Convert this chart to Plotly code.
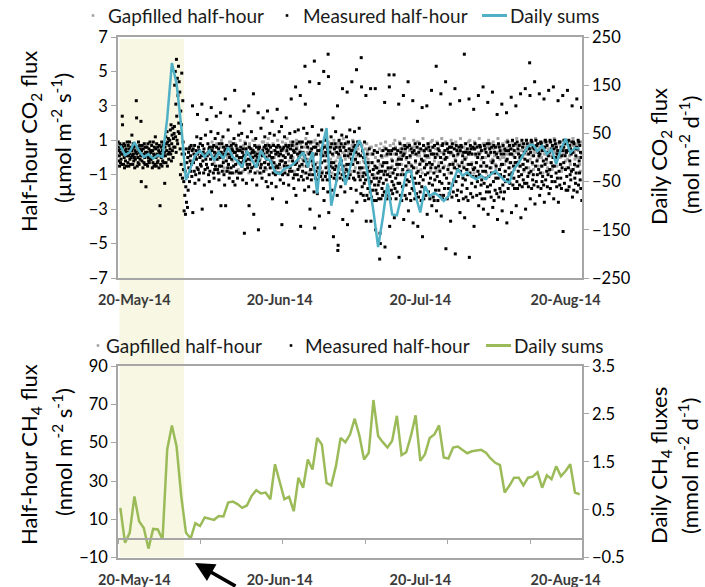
import pandas as pd
import plotly.graph_objects as go

# ---------------- data ----------------
first_day = "2014-05-17"
x_range = ["2014-05-16 12:00", "2014-08-23 12:00"]
label_dates = ["2014-05-20", "2014-06-20", "2014-07-20", "2014-08-20"]
label_text = ["20-May-14", "20-Jun-14", "20-Jul-14", "20-Aug-14"]
shade_dates = ["2014-05-16 20:00", "2014-05-30 14:00"]
legend_labels = ["Gapfilled half-hour", "Measured half-hour", "Daily sums"]

# daily CO2 sums (mol m-2 d-1), right axis of top panel
co2_daily = [25, 5, 11, 32, 14, 1, 7, -2.5, 5, 1, 81, 196, 153, 64, -47, -20, 5, 14, 1, 14,
             -6, 11, -2.5, 21, 1, -8, -20, 14, -2.5, -21, 14, -2.5, -6, -30, -34, -23, -20, -13, -2.5, 11,
             -20, 11, -75, 21, 61, -100, -54, 1, -57, -23, 14, 36, 7, -47, -111, -186, -125, -54, -118, -120,
             -80, -31, -28, -80, -114, -59, -80, -73, -80, -90, -80, -50, -24, -38, -31, -40, -45, -38, -45, -35,
             -28, -38, -48, -52, -24, -11, 7, 24, 27, 13, 24, 7, 17, -14, 17, 39, 10, 20, 18]

# daily CH4 sums (mmol m-2 d-1), right axis of bottom panel
ch4_daily = [0.54, -0.19, 0.02, 0.78, 0.26, 0.12, -0.31, 0.10, 0.09, -0.12, 1.76, 2.26, 1.82, 0.78, 0.02,
             -0.10, 0.22, 0.16, 0.34, 0.32, 0.29, 0.37, 0.36, 0.65, 0.67, 0.62, 0.54, 0.59, 0.79, 0.91,
             0.84, 0.86, 0.72, 1.45, 1.06, 0.72, 0.77, 0.47, 1.17, 0.96, 1.55, 1.34, 2.00, 1.86, 1.06,
             1.01, 1.41, 2.00, 1.91, 2.07, 2.40, 2.05, 1.55, 1.69, 2.79, 2.04, 1.91, 1.80, 1.94, 2.46,
             1.64, 1.70, 2.04, 2.47, 1.52, 1.66, 2.00, 2.07, 2.26, 1.59, 1.57, 1.80, 1.82, 1.75, 1.68,
             1.72, 1.74, 1.75, 1.69, 1.57, 1.48, 1.43, 0.86, 1.00, 1.17, 1.17, 1.01, 1.17, 1.19, 1.28,
             0.96, 1.22, 1.14, 1.41, 1.20, 1.31, 1.45, 0.86, 0.82]

# measured half-hour CO2 fluxes (umol m-2 s-1), one list per day
co2_measured = [
    [0.9, 0.4, -0.2, 0.6, 0.1, -0.5, 0.8, 0.3, -0.3, 0.5, -0.1, 0.7, 0.2, -0.4, 2.4, 1.9],
    [0.6, 0.2, -0.4, 0.8, 0.0, -0.6, 0.7, 0.4, -0.2, 0.3, 0.5, -0.5, 0.1, 0.9],
    [0.3, -0.3, 0.7, 0.1, -0.5, 0.5, 0.9, -0.1, 0.2, -0.4, 0.6, 0.0, 0.4, 1.3],
    [0.5, 0.1, -0.4, 0.8, 0.2, -0.2, 0.6, 0.0, -0.6, 0.4, -0.1, 0.7, 0.3, 3.3, 2.3],
    [0.2, -0.5, 0.6, 0.0, -0.3, 0.9, 0.4, -0.4, 0.3, 0.7, -0.1, 0.5, 0.1, 2.1, -1.4],
    [0.4, -0.2, 0.7, 0.1, -0.6, 0.5, 0.2, -0.3, 0.8, 0.0, -0.4, 0.6, 0.3, -1.7],
    [0.1, -0.4, 0.6, 0.3, -0.5, 0.8, 0.0, -0.2, 0.5, -0.3, 0.2, 0.9, -0.1, 0.4],
    [0.3, -0.1, 0.7, 0.0, -0.6, 0.4, -0.3, 0.9, 0.2, -0.5, 0.6, 0.1, -0.4, 1.2],
    [0.5, 0.0, -0.5, 0.8, 0.2, -0.3, 0.6, -0.2, 0.1, 0.4, -0.6, 0.7, 0.3, -2.8],
    [0.2, -0.4, 0.6, 0.0, 0.9, -0.5, 0.4, -0.2, 0.7, 0.1, -0.3, 0.8, 0.3, -1.5],
    [0.6, 0.1, 1.2, -0.3, 0.8, 0.4, 1.5, -0.5, 0.9, 0.2, 1.1, -0.1, 0.7, 0.3],
    [1.0, 0.5, 1.6, 0.2, 1.9, -0.2, 0.8, 1.3, 0.4, 1.7, 0.0, 1.1, 0.6, 1.4],
    [1.8, 4.2, 0.6, 5.0, 1.2, 3.1, 0.3, 5.7, 2.4, 1.0, 4.6, 0.8, 3.6, 1.5, 5.3, 2.0],
    [4.4, 1.4, 3.8, 0.5, -1.0, 2.7, -0.4, 1.9, 4.9, 0.2, -1.2, 3.3, 0.9, -0.7],
    [-1.4, -3.1, 0.2, -2.2, -0.8, -3.3, -1.7, 0.5, -2.6, -0.3, -1.1, -2.9, 0.0, -1.9],
    [0.3, -0.6, 0.5, -1.4, 0.6, -0.2, 0.1, -0.8, 0.7, -0.4, -1.1, 0.4, 3.0, -3.2],
    [0.5, -0.3, 0.2, -0.8, 0.7, -1.5, 0.0, -1.0, 0.4, -0.1, 1.2, -0.6, 2.5],
    [0.2, -0.7, 0.6, -1.3, 0.4, -0.9, 0.0, 0.8, -0.4, 1.1, -0.5, 0.1, 3.1, -3.0],
    [0.7, -0.2, 0.3, -0.9, 0.5, -1.6, 0.1, -0.7, 1.3, -0.1, 0.2, -0.4, 2.2],
    [0.1, -0.6, 0.8, 0.3, -1.0, 0.5, -1.4, 0.6, -0.8, 0.2, -0.1, 1.5, 2.9, -2.0],
    [0.4, -0.4, 0.6, 0.0, -0.9, 0.7, -1.2, 0.3, -0.7, 1.1, -0.5, 0.1, 2.4],
    [0.6, -0.1, 0.2, -0.7, 1.4, -0.9, 0.5, -1.3, 0.8, -0.5, 0.0, 0.3, 2.6, -2.8],
    [0.3, -0.5, 0.8, -0.8, 0.1, 1.2, -0.3, 0.6, -1.0, 0.2, -1.6, 0.4, 3.4, -2.8],
    [0.5, -0.2, 0.7, -0.8, 0.2, -0.6, 1.6, -0.4, 0.6, -1.2, 0.0, -0.9, 2.4],
    [0.2, -0.6, 0.7, -0.1, 0.5, -0.9, 0.4, -1.4, 0.8, -0.5, 1.1, 0.3, 3.9, -1.6],
    [0.3, -0.4, 0.7, -0.8, 0.1, 0.5, -1.2, 0.4, -0.2, 1.3, -0.9, 0.0, 2.0],
    [0.4, -0.3, 0.6, -0.9, 0.0, 1.4, -0.5, 0.3, -1.3, 0.5, -0.2, 0.1, 2.7, -4.4],
    [0.1, -0.7, 0.8, -0.2, 0.5, -1.5, 0.3, -0.4, 1.2, -0.6, 0.2, -0.1, 3.0, -2.8],
    [0.6, -0.4, 0.2, -0.8, 0.5, -0.1, 1.5, -0.6, 0.3, -1.3, 0.0, 0.4, 3.7, -3.3],
    [0.3, -0.5, 0.7, -0.9, 0.1, 1.1, -0.2, 0.6, -1.6, 0.2, -0.4, 0.0, 2.6, -4.2],
    [0.5, -0.2, 0.6, -0.9, 0.2, -0.6, 1.7, -0.4, 0.3, -1.2, 0.1, 0.4, 2.3],
    [0.2, -0.8, 0.6, -0.3, 1.2, -0.6, 0.7, 0.0, -1.4, 0.5, -0.1, 0.3, 2.7, -1.7],
    [0.4, -0.4, 0.7, -1.0, 0.1, 1.4, -0.6, 0.6, -0.2, 0.3, -1.5, 0.0, 2.1, -2.4],
    [0.0, -0.9, 0.7, -0.3, 1.3, -0.6, 0.4, -1.0, 0.2, -1.7, 0.6, -0.5, 2.8],
    [0.3, -0.6, 0.7, -0.9, 0.1, 1.5, -0.4, 0.6, -1.3, 0.2, -0.2, 0.4, 1.8, -3.9],
    [-0.2, -1.0, 0.5, 0.1, -1.5, 0.6, -0.5, 1.2, -0.9, 0.0, -0.3, 0.7, 2.3, -2.6],
    [0.4, -0.5, 0.6, -1.0, 0.2, -1.6, 0.7, -0.8, 1.4, -0.6, 0.5, 0.0, 3.4],
    [0.1, -0.8, 0.7, -0.2, 0.9, -1.2, 0.4, -1.8, 0.3, -1.0, 1.5, -0.4, 4.1, -2.2],
    [0.5, -0.3, 0.8, -1.0, 0.2, -0.7, 1.6, -1.3, 0.0, 0.9, -0.5, 0.3, 3.6, -4.0],
    [0.2, -1.1, 0.6, -0.4, 0.9, -0.8, 0.3, -1.3, 1.7, -0.2, 0.1, -1.9, 5.3, 3.1],
    [-0.1, -0.9, 0.8, -0.5, 1.4, -1.2, 0.6, -0.3, 0.9, -1.7, 0.2, -1.0, 4.4, -3.0],
    [0.3, -0.7, 0.9, -1.3, 0.5, -0.2, 1.8, -1.0, 0.1, -0.5, 0.6, -2.0, 5.6, -4.1],
    [-0.4, -1.2, 0.6, -0.8, 0.2, -1.3, 0.8, -2.1, 0.4, -0.6, 1.3, -1.0, 4.3, -3.4],
    [0.4, -0.6, 0.9, -1.1, 0.2, -0.3, 1.6, -0.9, 0.5, -1.3, 0.1, -1.8, 5.0, -2.5],
    [0.6, -0.2, 1.0, -1.1, 0.3, -0.6, 1.4, -0.9, 0.1, -1.3, 0.5, -2.0, 6.0, 4.7, -3.2],
    [-0.8, -1.3, 0.3, -0.5, 0.6, -1.1, 1.2, -0.3, 0.8, -1.9, 0.2, -0.6, 2.3, -4.6],
    [-0.3, -1.2, 0.5, -0.7, 0.8, -1.0, 1.5, -0.5, 0.6, -1.3, 0.3, -2.2, 3.0, -5.4, -5.1],
    [0.2, -0.9, 1.0, -0.4, 0.6, -1.2, 0.4, -1.7, 0.8, -0.2, 1.3, -1.0, 4.0, -3.6],
    [-0.5, -1.3, 0.6, -0.9, 0.1, -2.0, 0.8, -1.1, 0.4, -0.7, 1.2, -0.4, 3.8, -3.9],
    [0.1, -0.8, 0.9, -1.2, 0.5, -0.4, 1.6, -1.0, 0.2, -1.8, 0.4, -0.1, 4.4, -3.1],
    [0.4, -0.4, 0.9, -1.2, 0.6, -0.8, 1.5, -1.3, 0.7, -0.1, 0.3, -1.9, 5.1, -2.6],
    [0.7, -0.3, 0.9, -0.9, 0.2, -1.1, 1.7, -0.6, 0.8, -1.3, 0.1, -2.1, 5.8, 4.1],
    [-0.6, -1.7, 0.4, -1.1, -2.2, 0.0, -0.9, -1.5, 0.9, -2.5, -0.3, -1.3, 3.6, -3.7],
    [-1.0, -2.2, 0.2, -0.6, -1.8, -0.3, -2.4, -1.2, 0.5, -0.8, -1.5, -2.0, 4.0, -3.7],
    [-1.4, -2.3, -0.3, -1.0, -1.9, 0.2, -0.7, -2.5, -1.2, 0.4, -1.6, -0.5, 4.0, -4.2],
    [-1.9, -2.5, -0.6, -1.2, -2.1, 0.3, -0.9, -1.6, -0.2, -2.4, -1.4, -0.8, -5.9, -4.4, -5.0],
    [-1.2, -2.4, 0.1, -0.8, -1.8, -0.5, -2.2, 0.4, -1.5, -0.3, -1.0, -2.0, 3.2, -5.2],
    [-0.8, -2.0, 0.5, -1.3, -0.3, -2.4, 0.2, -1.0, -1.7, -0.6, 0.4, -2.2, 4.8, 4.1, -4.0],
    [-1.1, -2.4, 0.2, -0.6, -1.9, 0.4, -1.4, -0.2, -2.1, -0.9, 0.5, -1.6, 4.8, -3.5],
    [-0.7, -1.8, 0.5, -1.2, -2.4, 0.2, -0.4, -2.0, -1.0, 0.4, -1.5, -0.1, 3.1, -5.8],
    [-0.4, -1.5, 0.8, -2.2, 0.3, -1.0, -0.1, -2.5, 0.5, -1.7, -0.7, 0.1, 3.6, -3.6],
    [0.2, -1.0, 0.7, -2.2, 0.5, -0.5, -1.6, -2.4, 0.0, -1.3, 0.6, -0.8, 4.4, -3.1],
    [-0.3, -1.4, 0.7, -2.1, 0.1, -0.8, -2.5, 0.5, -1.1, -0.5, -1.8, 0.3, 3.3, -3.8],
    [-0.6, -1.9, 0.4, -1.2, -2.4, 0.8, -0.2, -1.5, 0.2, -2.1, -0.9, 0.6, 2.1, -4.0],
    [-0.8, -2.3, 0.3, -1.5, 0.8, -0.4, -2.0, -1.1, 0.5, -2.5, -0.1, -1.7, 2.9, -4.6],
    [-0.2, -1.3, 0.7, -2.4, 0.4, -0.6, -1.8, 0.1, -1.0, -2.2, 0.5, -0.4, 3.0, -3.3],
    [0.1, -0.9, 0.8, -2.0, 0.6, -1.5, -0.3, -2.4, 0.4, -1.2, -0.6, 0.2, 3.9, -2.8],
    [-0.4, -1.6, 0.6, -2.3, 0.2, -0.9, -2.5, 0.7, -1.3, 0.0, -1.9, -0.6, 5.3, -3.1],
    [0.2, -1.1, 0.8, -2.5, 0.5, -0.5, -1.9, 0.4, -1.4, -0.8, -2.2, 0.0, 3.7, -3.4],
    [-0.3, -1.5, 0.7, -2.4, 0.8, -0.6, -2.2, 0.2, -1.0, -1.8, 0.4, -0.1, 4.4, -5.3],
    [0.0, -1.2, 0.8, -2.4, 0.5, -0.7, -1.8, 0.3, -1.5, -2.1, 0.6, -0.4, 3.1, -3.7],
    [0.3, -0.9, 0.6, -2.3, 0.8, -1.6, -0.4, -2.0, 0.1, -1.3, 0.5, -0.6, 4.0, -5.6],
    [-0.2, -1.4, 0.7, -2.2, 0.4, -0.7, -1.9, 0.2, -1.1, -2.5, 0.6, -0.5, 3.3, -3.2],
    [0.4, -0.8, 0.7, -2.0, 0.6, -0.3, -1.6, 0.1, -1.2, -2.4, 0.3, -0.6, 6.0, -3.5],
    [-0.1, -1.3, 0.8, -2.3, 0.3, -0.7, -1.8, 0.5, -1.0, -2.5, 0.2, -0.4, 3.4, -5.8],
    [0.3, -0.9, 0.7, -2.1, 0.5, -0.4, -1.5, 0.2, -1.1, -2.3, 0.6, -0.7, 2.8, -4.0],
    [0.5, -0.6, 0.8, -1.7, 0.2, -1.1, -0.3, -2.2, 0.6, -1.4, 0.0, -0.8, 3.6, -2.8],
    [0.2, -1.0, 0.7, -2.1, 0.6, -0.5, -1.6, 0.4, -1.3, -2.4, 0.0, -0.8, 4.1, -3.0],
    [-0.3, -1.5, 0.7, -2.4, 0.5, -0.8, -1.2, 0.3, -2.0, -0.5, 0.8, -1.7, 3.2, -3.3],
    [0.1, -1.1, 0.8, -2.0, 0.5, -0.6, -1.6, 0.3, -2.3, -0.9, 0.6, -0.3, 3.8, -2.9],
    [-0.2, -1.4, 0.7, -2.5, 0.3, -0.9, -1.9, 0.6, -1.2, -0.5, 0.2, -2.1, 2.5, -3.6],
    [0.0, -1.2, 0.8, -2.3, 0.6, -0.7, -1.8, 0.4, -1.0, -2.0, 0.2, -0.4, 3.1, -3.1],
    [-0.4, -1.6, 0.7, -2.4, 0.2, -1.1, -2.0, 0.5, -0.8, -1.4, 0.4, -0.2, 2.6, -3.8],
    [-0.1, -1.3, 0.9, -1.8, 0.4, -0.6, -1.0, 0.7, -1.5, 0.2, -0.3, 0.5, 3.5, -3.2],
    [0.2, -0.9, 1.0, -1.6, 0.7, -0.5, -1.2, 0.4, -1.8, 0.0, 0.8, -0.3, 3.0, -2.8],
    [-0.3, -1.4, 0.9, -1.8, 0.5, -0.8, 0.2, -1.1, 0.7, -1.6, 0.0, -0.5, 3.7, -3.5],
    [0.1, -1.0, 1.0, -1.7, 0.6, -0.4, -1.3, 0.8, -0.7, 0.3, -1.5, -0.1, 4.0, -3.0],
    [0.4, -0.6, 1.0, -1.5, 0.8, -0.2, -1.1, 0.6, -1.7, 0.2, -0.9, 0.5, 5.5, 3.6, -2.4],
    [0.3, -0.8, 1.0, -1.8, 0.9, -0.3, -1.3, 0.6, -1.0, 0.1, -1.6, 0.5, 4.4, -2.7],
    [0.5, -0.5, 1.0, -1.4, 0.7, -0.2, -1.0, 0.8, -1.7, 0.3, -0.7, 0.1, 3.7, -2.2],
    [0.2, -0.9, 0.9, -1.8, 0.8, -0.5, -1.4, 0.4, -1.1, 0.6, -0.2, -1.6, 3.4, -2.6],
    [0.6, -0.4, 1.0, -1.3, 0.9, -0.1, -0.8, 0.7, -1.7, 0.3, -1.0, 0.1, 3.9, -2.1],
    [0.3, -0.7, 1.0, -1.8, 0.9, -0.3, -1.1, 0.5, -1.4, 0.7, -0.5, 0.0, 4.1, -2.4],
    [0.5, -0.5, 1.0, -1.4, 0.8, 0.0, -0.9, 0.6, -1.7, 0.2, -1.2, 0.4, 3.3, -2.6],
    [0.2, -0.8, 0.9, -1.6, 0.9, -0.4, -1.2, 0.6, -1.8, 0.1, -0.6, 0.4, 3.6, -4.3],
    [0.6, -0.3, 1.0, -1.5, 0.8, 0.1, -0.7, 0.4, -1.9, 0.3, -1.1, 0.9, 3.9, -1.9],
    [0.4, -0.6, 1.0, -1.7, 0.7, -0.2, -1.0, 0.5, -1.3, 0.2, -0.8, 0.9, 3.0, -2.3],
    [0.3, -0.7, 0.9, -1.9, 0.8, -0.4, -1.2, 0.5, -1.5, 0.1, -0.9, 0.6, 3.4, -2.0],
    [0.5, -0.5, 1.0, -1.6, 0.9, -0.2, -0.9, 0.7, -1.3, 0.3, -1.8, 0.0, 2.9, -2.5],
]

# gap-filled half-hour CO2 fluxes (umol m-2 s-1), one list per day (none in first 20 days)
co2_gapfilled = [[] for _ in range(20)] + [
    [0.9, 0.5, 0.1, -0.3, -0.7, 0.7, 0.2], [0.8, 0.3, -0.1, -0.5, -0.9, 0.6, 0.0],
    [1.0, 0.6, 0.2, -0.2, -0.6, 0.4, -0.8], [0.7, 0.4, 0.0, -0.4, -0.8, 0.9, 0.1],
    [0.9, 0.5, 0.2, -0.2, -0.5, 0.3, -0.9], [0.8, 0.6, 0.1, -0.3, -0.7, 0.4, 0.0],
    [1.0, 0.4, 0.0, -0.4, -0.8, 0.7, 0.2], [0.9, 0.5, 0.3, -0.1, -0.6, 0.6, -0.9],
    [0.8, 0.2, -0.2, -0.6, 0.5, 1.0, 0.1], [1.0, 0.7, 0.3, -0.1, -0.5, -0.8, 0.4],
    [0.7, 0.3, -0.1, -0.5, -0.9, 0.9, 0.5], [0.9, 0.6, 0.2, -0.3, -0.7, 0.1, 0.8],
    [1.1, 0.5, 0.1, -0.3, -0.6, 0.7, -0.1], [0.8, 0.4, 0.0, -0.4, -0.8, 0.6, 0.2],
    [1.0, 0.7, 0.3, -0.2, -0.6, 0.5, -0.9], [0.9, 0.4, 0.1, -0.4, -0.7, 0.8, 0.3],
    [1.1, 0.6, 0.2, -0.2, -0.5, 0.9, 0.0], [0.8, 0.5, 0.0, -0.3, -0.8, 0.7, 0.3],
    [1.0, 0.6, 0.2, -0.2, -0.6, 0.4, 0.8], [0.9, 0.3, -0.1, -0.5, -0.9, 0.6, 0.1],
    [1.1, 0.7, 0.3, -0.1, -0.5, 0.5, -0.8], [0.8, 0.4, 0.0, -0.4, -0.7, 0.9, 0.2],
    [1.0, 0.6, 0.2, -0.3, -0.6, 0.7, -0.9], [0.9, 0.5, 0.1, -0.3, -0.8, 0.3, 0.7],
    [1.1, 0.7, 0.2, -0.2, -0.5, 0.4, 0.9], [0.8, 0.4, -0.1, -0.5, -0.9, 0.6, 0.1],
    [1.0, 0.6, 0.3, -0.2, -0.6, 0.8, 0.0], [0.9, 0.5, 0.1, -0.4, -0.7, 0.7, 0.3],
    [1.1, 0.6, 0.2, -0.1, -0.5, 0.9, -0.8], [0.8, 0.3, 0.0, -0.4, -0.8, 0.5, 0.7],
    [1.0, 0.7, 0.3, -0.2, -0.6, 0.4, 0.1], [0.9, 0.5, 0.1, -0.3, -0.7, 0.8, -0.9],
    [0.7, 0.3, -0.2, -0.6, -0.9, 0.5, 0.0], [0.8, 0.4, -0.1, -0.5, -0.8, 0.6, 0.2],
    [0.6, 0.2, -0.3, -0.7, -1.0, 0.4, 0.0], [0.7, 0.3, -0.2, -0.6, -0.9, 0.5, -0.4],
    [0.8, 0.4, 0.0, -0.4, -0.8, 0.6, 0.1], [0.9, 0.5, 0.1, -0.3, -0.7, 0.3, -0.9],
    [0.7, 0.4, -0.1, -0.5, -0.9, 0.8, 0.2], [1.0, 0.6, 0.2, -0.2, -0.6, 0.4, 0.0],
    [0.9, 0.5, 0.1, -0.4, -0.8, 0.7, 0.3], [1.1, 0.7, 0.3, -0.1, -0.5, 0.8, -0.7],
    [0.8, 0.4, 0.0, -0.4, -0.8, 0.6, 0.2], [1.0, 0.6, 0.2, -0.3, -0.6, 0.9, 0.1],
    [0.9, 0.5, 0.1, -0.3, -0.7, 0.4, -0.9], [1.1, 0.7, 0.3, -0.2, -0.5, 0.6, 0.0],
    [0.8, 0.4, 0.0, -0.4, -0.8, 0.9, 0.2], [1.0, 0.6, 0.2, -0.2, -0.6, 0.5, -0.8],
    [0.9, 0.5, 0.1, -0.3, -0.7, 0.7, 0.3], [1.1, 0.7, 0.3, -0.1, -0.5, 0.4, 0.9],
    [0.8, 0.4, 0.0, -0.5, -0.9, 0.6, 0.2], [1.0, 0.6, 0.2, -0.3, -0.6, 0.8, -0.1],
    [0.9, 0.5, 0.1, -0.4, -0.8, 0.3, 0.7], [1.1, 0.7, 0.3, -0.2, -0.5, 0.6, 0.0],
    [0.8, 0.4, 0.0, -0.4, -0.7, 0.9, 0.2], [1.0, 0.6, 0.2, -0.3, -0.6, 0.5, -0.9],
    [0.9, 0.5, 0.1, -0.3, -0.8, 0.7, 0.3], [1.1, 0.7, 0.3, -0.1, -0.5, 0.4, 0.8],
    [0.8, 0.4, 0.0, -0.5, -0.9, 0.6, 0.2], [1.0, 0.6, 0.2, -0.2, -0.6, 0.8, -0.1],
    [0.9, 0.5, 0.1, -0.4, -0.7, 0.3, 0.7], [1.1, 0.7, 0.3, -0.1, -0.5, 0.6, 0.0],
    [0.8, 0.4, 0.0, -0.4, -0.8, 0.9, 0.2], [1.0, 0.6, 0.2, -0.3, -0.6, 0.5, -0.9],
    [0.9, 0.5, 0.1, -0.3, -0.7, 0.7, 0.3], [1.1, 0.7, 0.3, -0.2, -0.5, 0.4, 0.8],
    [0.8, 0.4, 0.0, -0.4, -0.8, 0.6, 0.2], [1.0, 0.6, 0.2, -0.2, -0.6, 0.8, -0.1],
    [0.9, 0.5, 0.1, -0.4, -0.7, 0.3, 0.7], [1.1, 0.7, 0.3, -0.1, -0.5, 0.6, 0.0],
    [0.8, 0.4, 0.0, -0.5, -0.9, 0.9, 0.2], [1.0, 0.6, 0.2, -0.3, -0.6, 0.5, -0.8],
    [0.9, 0.5, 0.1, -0.3, -0.7, 0.7, 0.3], [1.1, 0.7, 0.3, -0.2, -0.5, 0.4, 0.8],
    [0.8, 0.4, 0.0, -0.4, -0.8, 0.6, 0.2], [1.0, 0.6, 0.2, -0.2, -0.6, 0.8, -0.1],
    [0.9, 0.5, 0.1, -0.4, -0.7, 0.3, 0.7], [1.1, 0.7, 0.3, -0.1, -0.5, 0.6, 0.0],
    [0.8, 0.4, 0.0, -0.4, -0.8, 0.9, 0.2],
]

# ---------------- styling constants ----------------
W, H = 705, 587
FONT = "Lato, 'Open Sans', sans-serif"
AXIS_GRAY = "#a6a6a6"
GRAY_PT = "#a3a3a3"
BLUE = "#4fb0c6"
GREEN = "#9bbb59"
x_dom = [118 / W, 582 / W]
top_dom = [1 - 278 / H, 1 - 37 / H]
bot_dom = [1 - 557.7 / H, 1 - 366 / H]

days = pd.date_range(first_day, periods=len(co2_daily), freq="D")


def halfhour_points(day_lists):
    xs, ys = [], []
    for d, vals in zip(days, day_lists):
        m = len(vals)
        for j, v in enumerate(vals):
            xs.append(d - pd.Timedelta(hours=12) + pd.Timedelta(days=(j + 0.5) / m))
            ys.append(v)
    return xs, ys


gx, gy = halfhour_points(co2_gapfilled)
mx, my = halfhour_points(co2_measured)

fig = go.Figure()
fig.add_trace(go.Scatter(x=gx, y=gy, mode="markers", name=legend_labels[0], showlegend=False,
                         marker=dict(symbol="square", size=3, color=GRAY_PT, line=dict(width=0)),
                         xaxis="x", yaxis="y"))
fig.add_trace(go.Scatter(x=mx, y=my, mode="markers", name=legend_labels[1], showlegend=False,
                         marker=dict(symbol="square", size=3, color="#000000", line=dict(width=0)),
                         xaxis="x", yaxis="y"))
fig.add_trace(go.Scatter(x=days, y=co2_daily, mode="lines", name=legend_labels[2], showlegend=False,
                         line=dict(color=BLUE, width=2.5), xaxis="x", yaxis="y2"))
fig.add_trace(go.Scatter(x=[None], y=[None], mode="markers", showlegend=False,
                         xaxis="x3", yaxis="y3"))
fig.add_trace(go.Scatter(x=days, y=ch4_daily, mode="lines", name=legend_labels[2], showlegend=False,
                         line=dict(color=GREEN, width=2.5), xaxis="x2", yaxis="y4"))

date_axis = dict(type="date", range=x_range, autorange=False, domain=x_dom, showline=True,
                 linecolor=AXIS_GRAY, linewidth=1.5, mirror=True, showgrid=False, zeroline=False,
                 tickvals=label_dates, ticktext=label_text, ticks="outside", ticklen=8,
                 tickcolor="rgba(0,0,0,0)", tickfont=dict(family=FONT, size=14.5, color="#3a3a3a",
                                                          weight="bold"))
y_common = dict(showline=True, linecolor=AXIS_GRAY, linewidth=1.5, ticks="outside", ticklen=5,
                tickcolor=AXIS_GRAY, showgrid=False, zeroline=False, autorange=False,
                tickfont=dict(family=FONT, size=16.5, color="#000000"))

zero_pos = bot_dom[0] + (0 - (-10)) / 100 * (bot_dom[1] - bot_dom[0])

fig.update_layout(
    width=W, height=H, margin=dict(l=0, r=0, t=0, b=0, autoexpand=False),
    paper_bgcolor="white", plot_bgcolor="rgba(0,0,0,0)",
    font=dict(family=FONT, color="#000000"),
    showlegend=False,
    xaxis=dict(date_axis, anchor="y"),
    yaxis=dict(y_common, domain=top_dom, anchor="x", range=[-7, 7], tick0=-7, dtick=2),
    yaxis2=dict(y_common, overlaying="y", side="right", anchor="x", range=[-250, 250],
                tick0=-250, dtick=100),
    xaxis2=dict(date_axis, anchor="y3"),
    yaxis3=dict(y_common, domain=bot_dom, anchor="x2", range=[-10, 90], tick0=-10, dtick=20),
    yaxis4=dict(y_common, overlaying="y3", side="right", anchor="x2", range=[-0.5, 3.5],
                tick0=-0.5, dtick=1, tickformat=".1f"),
    xaxis3=dict(type="date", range=x_range, autorange=False, overlaying="x2", anchor="free",
                position=zero_pos, showline=True, linecolor=AXIS_GRAY, linewidth=1.5,
                showgrid=False, zeroline=False, ticks="outside", ticklen=5, tickcolor=AXIS_GRAY,
                tick0=x_range[0], dtick=17.6 * 86400000, showticklabels=False),
)

# highlighted period spanning both panels
fig.add_shape(type="rect", xref="x", yref="paper", x0=shade_dates[0], x1=shade_dates[1],
              y0=1 - 557.5 / H, y1=1 - 39 / H, fillcolor="#f7f7e3", line=dict(width=0),
              layer="below")


def px(xp):
    return xp / W


def py(yp):
    return 1 - yp / H


# legends (drawn as text + small key marks, positioned like the original figure)
legend_rows = [
    # (y, gray-dot x, text1 x, black-dot x, text2 x, line x0, line x1, text3 x, line colour)
    (15.5, 93, 106, 287, 301, 482, 507, 508, BLUE),
    (345.5, 98, 104, 291, 303, 486, 511, 512, GREEN),
]
for (yy, gdx, t1, bdx, t2, l0, l1, t3, col) in legend_rows:
    fig.add_shape(type="rect", xref="paper", yref="paper", x0=px(gdx - 1.3), x1=px(gdx + 1.3),
                  y0=py(yy + 1.3), y1=py(yy - 1.3), fillcolor=GRAY_PT, line=dict(width=0))
    fig.add_shape(type="rect", xref="paper", yref="paper", x0=px(bdx - 1.3), x1=px(bdx + 1.3),
                  y0=py(yy + 1.3), y1=py(yy - 1.3), fillcolor="#000000", line=dict(width=0))
    fig.add_shape(type="line", xref="paper", yref="paper", x0=px(l0), x1=px(l1),
                  y0=py(yy), y1=py(yy), line=dict(color=col, width=3))
    for txt, tx in zip(legend_labels, (t1, t2, t3)):
        fig.add_annotation(text=txt, x=px(tx), y=py(yy), xref="paper", yref="paper",
                           showarrow=False, xanchor="left", yanchor="middle",
                           font=dict(family=FONT, size=19, color="#1a1a1a"))

# axis titles
titles = [
    ("Half-hour CO<sub>2</sub> flux", 30, 142),
    ("(µmol m<sup>-2</sup> s<sup>-1</sup>)", 62, 138),
    ("Daily CO<sub>2</sub> flux", 660, 157),
    ("(mol m<sup>-2</sup> d<sup>-1</sup>)", 689, 155),
    ("Half-hour CH<sub>4</sub> flux", 30, 455),
    ("(nmol m<sup>-2</sup> s<sup>-1</sup>)", 62, 452),
    ("Daily CH<sub>4</sub> fluxes", 660, 466),
    ("(mmol m<sup>-2</sup> d<sup>-1</sup>)", 689, 466),
]
for txt, tx, ty in titles:
    fig.add_annotation(text=txt, x=px(tx), y=py(ty), xref="paper", yref="paper",
                       showarrow=False, textangle=-90, xanchor="center", yanchor="middle",
                       font=dict(family=FONT, size=22, color="#000000"))

# arrow pointing at the end of the highlighted period
fig.add_annotation(x=px(195), y=py(563), xref="paper", yref="paper", text="",
                   showarrow=True, ax=42, ay=25, arrowhead=2, arrowsize=1.1, arrowwidth=3.5,
                   arrowcolor="#000000")

fig.write_html("out.html", config={"displayModeBar": False},
               post_script="document.body.style.margin='0px';")
